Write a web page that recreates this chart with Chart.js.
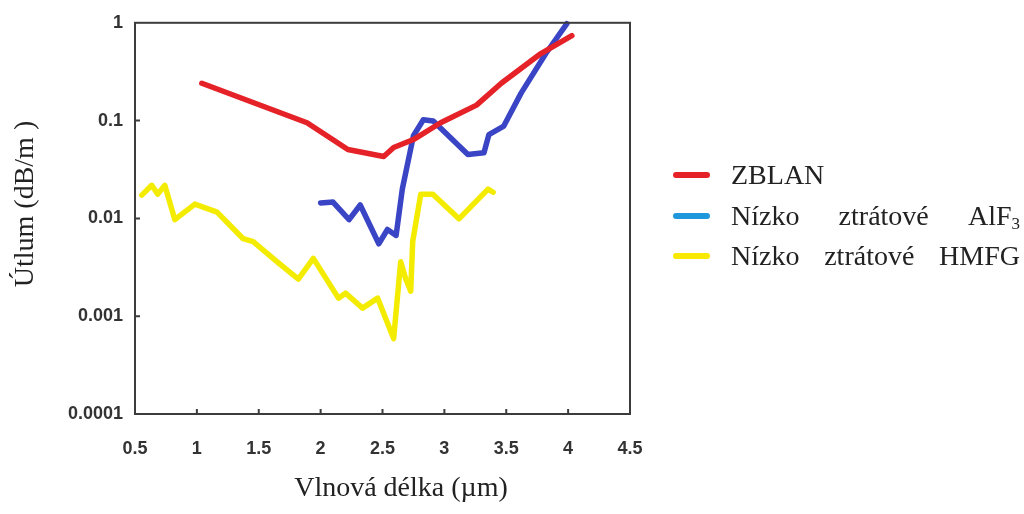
<!DOCTYPE html>
<html lang="cs">
<head>
<meta charset="utf-8">
<title>Útlum vláken</title>
<script src="https://cdn.jsdelivr.net/npm/chart.js@4/dist/chart.umd.min.js"></script>
<style>
  html, body { margin: 0; padding: 0; background: #fff; }
  #wrap { position: relative; width: 1024px; height: 514px; }
  #legend { position: absolute; left: 0; top: 0; }
  .leg-row { position: absolute; left: 673px; height: 40px; display: flex; align-items: center; }
  .leg-swatch { width: 37px; height: 6px; border-radius: 3px; margin-right: 21px; }
  .leg-text {
    display: flex; justify-content: space-between;
    font-family: "Liberation Serif", "Times New Roman", serif;
    font-size: 28px; line-height: 40px; color: #222;
  }
  .leg-text sub { font-size: 17px; vertical-align: -4px; line-height: 0; }
</style>
</head>
<body>
<div id="wrap">
  <canvas id="chart"></canvas>
  <div id="legend"></div>
</div>
<script>
(() => {
  // ── Series: wavelength (µm) vs attenuation (dB/m) ──
  const zblanX = [1.04, 1.89, 2.22, 2.51, 2.59, 2.75, 2.97, 3.26, 3.46, 3.78, 4.03];
  const zblanY = [0.241, 0.095, 0.0506, 0.043, 0.053, 0.064, 0.095, 0.144, 0.241, 0.485, 0.74];

  const alfX = [2.00, 2.10, 2.23, 2.32, 2.47, 2.54, 2.61, 2.66, 2.75, 2.83, 2.91, 3.19, 3.32, 3.36, 3.48, 3.62, 3.82, 3.99];
  const alfY = [0.0144, 0.0147, 0.0097, 0.0137, 0.0055, 0.0077, 0.0067, 0.0199, 0.070, 0.102, 0.099, 0.045, 0.047, 0.072, 0.088, 0.191, 0.485, 0.98];

  const hmfgX = [0.555, 0.635, 0.684, 0.741, 0.822, 0.984, 1.163, 1.374, 1.455, 1.649, 1.82, 1.941, 2.144, 2.201,
                 2.339, 2.461, 2.59, 2.647, 2.688, 2.728, 2.744, 2.809, 2.907, 3.118, 3.353, 3.394];
  const hmfgY = [0.0173, 0.0218, 0.0177, 0.0218, 0.0097, 0.014, 0.0116, 0.0062, 0.0058, 0.0036, 0.0024, 0.0039, 0.00153, 0.00172,
                 0.00121, 0.00153, 0.00059, 0.0036, 0.0024, 0.0018, 0.0058, 0.0177, 0.0177, 0.0099, 0.0199, 0.0185];

  const yTicks = [0.0001, 0.001, 0.01, 0.1, 1];
  const yTickLabels = ['0.0001', '0.001', '0.01', '0.1', '1'];
  const xTicks = [0.5, 1, 1.5, 2, 2.5, 3, 3.5, 4, 4.5];
  const xTickLabels = ['0.5', '1', '1.5', '2', '2.5', '3', '3.5', '4', '4.5'];

  const seriesNames = ['ZBLAN', 'Nízko ztrátové AlF<sub>3</sub>', 'Nízko ztrátové HMFG'];
  const lineColors = ['#e52228', '#3a45c6', '#f4ec00'];
  const legendColors = ['#e52228', '#1f97dc', '#f7ea00'];

  const xTitle = 'Vlnová délka (µm)';
  const yTitle = 'Útlum (dB/m )';

  const toPoints = (xs, ys) => xs.map((x, i) => ({ x, y: ys[i] }));

  // frame, inward ticks and axis titles
  const framePlugin = {
    id: 'frame',
    afterDraw(chart) {
      const { ctx, chartArea: a, scales } = chart;
      ctx.save();
      ctx.strokeStyle = '#3c3c3c';
      ctx.lineWidth = 2;
      ctx.strokeRect(a.left, a.top, a.right - a.left, a.bottom - a.top);

      ctx.beginPath();
      scales.y.ticks.forEach(t => {
        const py = scales.y.getPixelForValue(t.value);
        if (py <= a.top + 1 || py >= a.bottom - 1) return;
        ctx.moveTo(a.left, py); ctx.lineTo(a.left + 5, py);
      });
      scales.x.ticks.forEach(t => {
        const px = scales.x.getPixelForValue(t.value);
        if (px <= a.left + 1 || px >= a.right - 1) return;
        ctx.moveTo(px, a.bottom); ctx.lineTo(px, a.bottom - 5);
      });
      ctx.stroke();

      ctx.fillStyle = '#222';
      ctx.font = '28px "Liberation Serif", "Times New Roman", serif';
      ctx.textAlign = 'center';
      ctx.textBaseline = 'middle';
      ctx.fillText(xTitle, 401, 489);
      ctx.translate(26, 204);
      ctx.rotate(-Math.PI / 2);
      ctx.fillText(yTitle, 0, 0);
      ctx.restore();
    },
  };

  const tickFont = { family: '"Liberation Sans Narrow", "Arial Narrow", "Liberation Sans", sans-serif', size: 18, weight: 'bold' };

  new Chart(document.getElementById('chart'), {
    type: 'line',
    data: {
      datasets: [
        { label: 'ZBLAN', data: toPoints(zblanX, zblanY), borderColor: lineColors[0] },
        { label: 'AlF3', data: toPoints(alfX, alfY), borderColor: lineColors[1] },
        { label: 'HMFG', data: toPoints(hmfgX, hmfgY), borderColor: lineColors[2] },
      ].map(d => ({
        ...d,
        borderWidth: 5.5,
        pointRadius: 0,
        tension: 0,
        fill: false,
        clip: false,
        borderJoinStyle: 'round',
        borderCapStyle: 'round',
      })),
    },
    options: {
      responsive: true,
      maintainAspectRatio: false,
      animation: false,
      layout: { padding: { left: 0, right: 394, top: 19, bottom: 0 } },
      plugins: { legend: { display: false }, tooltip: { enabled: false } },
      scales: {
        x: {
          type: 'linear',
          min: xTicks[0], max: xTicks[xTicks.length - 1],
          grid: { display: false, drawTicks: false },
          border: { display: false },
          afterBuildTicks: s => { s.ticks = xTicks.map(v => ({ value: v })); },
          ticks: {
            color: '#333', font: tickFont, padding: 24,
            callback: v => xTickLabels[xTicks.indexOf(v)] ?? '',
          },
          afterFit: s => { s.height = 100; },
        },
        y: {
          type: 'logarithmic',
          min: yTicks[0], max: yTicks[yTicks.length - 1],
          grid: { display: false, drawTicks: false },
          border: { display: false },
          afterBuildTicks: s => { s.ticks = yTicks.map(v => ({ value: v })); },
          ticks: {
            color: '#333', font: tickFont, padding: 12,
            callback: v => yTickLabels[yTicks.indexOf(v)] ?? '',
          },
          afterFit: s => { s.width = 135; },
        },
      },
    },
    plugins: [framePlugin],
  });

  // ── Legend (right side) ──
  const legend = document.getElementById('legend');
  const rowTops = [155, 196, 236];
  legend.innerHTML = seriesNames.map((name, i) => {
    const words = name.split(' ').map(w => `<span>${w}</span>`).join('');
    const width = i === 0 ? 'auto' : '289px';
    return `<div class="leg-row" style="top:${rowTops[i]}px">
      <div class="leg-swatch" style="background:${legendColors[i]}"></div>
      <div class="leg-text" style="width:${width}">${words}</div>
    </div>`;
  }).join('');
})();
</script>
</body>
</html>
